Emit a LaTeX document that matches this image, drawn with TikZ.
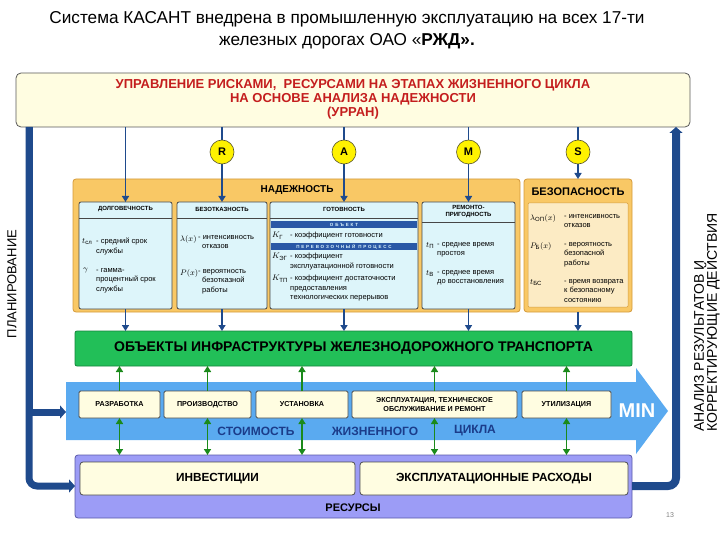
\documentclass[tikz,border=0pt]{standalone}
\usepackage{amsmath}
\usepackage{fontspec}
\setmainfont{Liberation Sans}
\usetikzlibrary{arrows.meta,positioning,calc}

\definecolor{lineblue}{HTML}{1F4A8C}
\definecolor{paleyel}{HTML}{FFFDE1}
\definecolor{titred}{HTML}{C41E1E}
\definecolor{orangebox}{HTML}{F9C865}
\definecolor{orangeedge}{HTML}{D49A3A}
\definecolor{safeinner}{HTML}{FCEBC4}
\definecolor{cyanbox}{HTML}{DDF5FA}
\definecolor{greenbox}{HTML}{22BF58}
\definecolor{greenedge}{HTML}{14843C}
\definecolor{bandblue}{HTML}{5AAAF0}
\definecolor{purplebox}{HTML}{9C9CF6}
\definecolor{purpleedge}{HTML}{5858A8}
\definecolor{arrgreen}{HTML}{1B8A1B}
\definecolor{navytext}{HTML}{1B3C8A}
\definecolor{stripblue}{HTML}{2A58A6}

\tikzset{
  blok/.style={draw, anchor=north west, inner sep=0pt, outer sep=0pt, rounded corners=3pt, line width=0.8pt},
  podblok/.style={blok, fill=cyanbox, draw=gray!55!black, minimum height=107pt, rounded corners=2pt},
  etapa/.style={blok, fill=paleyel, draw=gray!60!black, rounded corners=1.5pt, minimum height=27pt, align=center, font=\bfseries\fontsize{7.2}{8.5}\selectfont},
  hdr/.style={inner sep=0pt, align=center, font=\bfseries\fontsize{6}{7.5}\selectfont},
  sym/.style={anchor=north west, inner sep=0pt, font=\fontsize{8}{9.5}\selectfont},
  txt/.style={anchor=north west, inner sep=0pt, align=left, font=\fontsize{7.5}{9.5}\selectfont},
  polosa/.style={fill=stripblue, inner sep=0pt, minimum width=146pt, minimum height=7pt, text=cyan!15, font=\bfseries\fontsize{4.5}{5}\selectfont\addfontfeatures{LetterSpace=40}},
  circ/.style={circle, draw=olive!50!black, line width=0.6pt, fill=yellow, minimum size=24pt, inner sep=0pt, font=\bfseries\fontsize{11}{11}\selectfont},
  lnk/.style={draw=lineblue, line width=1.6pt, -{Triangle[length=6pt,width=7pt]}},
  gruesa/.style={draw=lineblue, line width=7pt, rounded corners=8pt, -{Triangle[length=6pt,width=13pt]}},
  flecha/.style={draw=arrgreen, line width=1.6pt, -{Triangle[length=6pt,width=7pt]}},
}

\begin{document}
\begin{tikzpicture}[x=1pt,y=-1pt]
\useasboundingbox (0,0) rectangle (720,540);

% titulo
\node[inner sep=0pt, align=center, font=\fontsize{17.2}{22}\selectfont] (titulo) at (347,30)
  {Система КАСАНТ внедрена в промышленную эксплуатацию на всех 17-ти\\железных дорогах ОАО «\textbf{РЖД».}};

% caja superior
\node[blok, fill=paleyel, draw=gray!70!black, minimum width=674pt, minimum height=54pt, rounded corners=5pt] (urran) at (16,73) {};
\node[inner sep=0pt, align=center, text=titred, font=\bfseries\fontsize{13}{14}\selectfont] (urrantxt) at (353,99)
  {УПРАВЛЕНИЕ РИСКАМИ,\ \ РЕСУРСАМИ НА ЭТАПАХ ЖИЗНЕННОГО ЦИКЛА\\НА ОСНОВЕ АНАЛИЗА НАДЕЖНОСТИ\\(УРРАН)};

% надежность
\node[blok, fill=orangebox, draw=orangeedge, minimum width=447pt, minimum height=133pt] (nadezh) at (73,179) {};
\node[inner sep=0pt, font=\bfseries\fontsize{10}{12}\selectfont] (nadezhtxt) at (297,190) {НАДЕЖНОСТЬ};

\node[podblok, minimum width=93pt] (dolg) at (79,202) {};
\node[podblok, minimum width=90pt] (bezotk) at (177,202) {};
\node[podblok, minimum width=148pt] (gotov) at (270,202) {};
\node[podblok, minimum width=93pt] (remont) at (422,202) {};

\draw[gray!55!black, line width=0.6pt] ([yshift=-16pt]dolg.north west) -- ([yshift=-16pt]dolg.north east);
\draw[gray!55!black, line width=0.6pt] ([yshift=-16pt]bezotk.north west) -- ([yshift=-16pt]bezotk.north east);
\draw[gray!55!black, line width=0.6pt] ([yshift=-16pt]gotov.north west) -- ([yshift=-16pt]gotov.north east);
\draw[gray!55!black, line width=0.6pt] ([yshift=-20pt]remont.north west) -- ([yshift=-20pt]remont.north east);

\node[hdr] (dolghdr) at ([yshift=-7.5pt]dolg.north) {ДОЛГОВЕЧНОСТЬ};
\node[hdr] (bezotkhdr) at ([yshift=-7.5pt]bezotk.north) {БЕЗОТКАЗНОСТЬ};
\node[hdr] (gotovhdr) at ([yshift=-7pt]gotov.north) {ГОТОВНОСТЬ};
\node[hdr] (remonthdr) at ([yshift=-9.5pt]remont.north) {РЕМОНТО-\\ПРИГОДНОСТЬ};

% долговечность
\node[sym] (dolgA) at (82,238) {$t_{\text{сл}}$};
\node[txt] (dolgAt) at (96,238) {- средний срок\\службы};
\node[sym] (dolgB) at (83,268) {$\gamma$};
\node[txt] (dolgBt) at (96,268) {- гамма-\\процентный срок\\службы};

% безотказность
\node[sym] (bezA) at (180,235) {$\lambda(x)$};
\node[txt] (bezAt) at (198,235) {- интенсивность\\\hspace*{4pt}отказов};
\node[sym] (bezB) at (180,269) {$P(x)$};
\node[txt] (bezBt) at (198,269) {- вероятность\\\hspace*{4pt}безотказной\\\hspace*{4pt}работы};

% готовность
\node[polosa] (obj) at (344,225) {ОБЪЕКТ};
\node[sym] (gotA) at (272,232) {$K_{\text{Г}}$};
\node[txt] (gotAt) at (290,232) {- коэффициент готовности};
\node[polosa] (perev) at (344,246.5) {ПЕРЕВОЗОЧНЫЙ ПРОЦЕСС};
\node[sym] (gotB) at (272,253) {$K_{\text{ЭГ}}$};
\node[txt] (gotBt) at (290,253) {- коэффициент\\эксплуатационной готовности};
\node[sym] (gotC) at (272,275) {$K_{\text{ТП}}$};
\node[txt] (gotCt) at (290,275) {- коэффициент достаточности\\предоставления\\технологических перерывов};

% ремонтопригодность
\node[sym] (remA) at (426,242) {$t_{\text{П}}$};
\node[txt] (remAt) at (437,242) {- среднее время\\простоя};
\node[sym] (remB) at (426,270) {$t_{\text{В}}$};
\node[txt] (remBt) at (437,270) {- среднее время\\до восстановления};

% безопасность
\node[blok, fill=orangebox, draw=orangeedge, minimum width=108pt, minimum height=133pt] (bezop) at (524,179) {};
\node[inner sep=0pt, font=\bfseries\fontsize{11}{13}\selectfont] (bezophdr) at (578,192) {БЕЗОПАСНОСТЬ};
\node[blok, fill=safeinner, draw=orangeedge, line width=0.5pt, minimum width=100pt, minimum height=104pt, rounded corners=1pt] (bezopin) at (528,203) {};
\node[sym] (bzA) at (530,214) {$\lambda_{\text{ОП}}(x)$};
\node[txt] (bzAt) at (564,214) {- интенсивность\\отказов};
\node[sym] (bzB) at (530,242) {$P_{\text{Б}}(x)$};
\node[txt] (bzBt) at (564,242) {- вероятность\\безопасной\\работы};
\node[sym] (bzC) at (530,279) {$t_{\text{БС}}$};
\node[txt] (bzCt) at (564,279) {- время возврата\\к безопасному\\состоянию};

% lineas desde la caja superior
\draw[lnk] (urran.south -| dolg.north) -- (dolg.north);
\draw[lnk] (urran.south -| bezotk.north) -- (bezotk.north);
\draw[lnk] (urran.south -| gotov.north) -- (gotov.north);
\draw[lnk] (urran.south -| remont.north) -- (remont.north);
\draw[lnk] (urran.south -| bezop.north) -- (bezop.north);

\node[circ] (kR) at ($(bezotk.north)+(0,-50)$) {R};
\node[circ] (kA) at ($(gotov.north)+(0,-50)$) {A};
\node[circ] (kM) at ($(remont.north)+(0,-50)$) {M};
\node[circ] (kS) at ($(bezop.north)+(0,-27)$) {S};

% объекты
\node[blok, fill=greenbox, draw=greenedge, minimum width=557pt, minimum height=35pt, rounded corners=2pt, font=\bfseries\fontsize{14}{16}\selectfont] (obekty) at (75,331)
  {ОБЪЕКТЫ ИНФРАСТРУКТУРЫ ЖЕЛЕЗНОДОРОЖНОГО ТРАНСПОРТА};

\draw[lnk] (dolg.south) -- (dolg.south |- obekty.north);
\draw[lnk] (bezotk.south) -- (bezotk.south |- obekty.north);
\draw[lnk] (gotov.south) -- (gotov.south |- obekty.north);
\draw[lnk] (remont.south) -- (remont.south |- obekty.north);
\draw[lnk] (bezop.south) -- (bezop.south |- obekty.north);

% banda azul
\fill[bandblue] (66,382) -- (636,382) -- (636,368) -- (668,411) -- (636,454) -- (636,440) -- (66,440) -- cycle;
\coordinate (bandw) at (66,412);
\node[inner sep=0pt, text=white, font=\bfseries\fontsize{20}{20}\selectfont] (min) at (637,411) {MIN};

\node[etapa, minimum width=81pt] (razrab) at (79,391) {РАЗРАБОТКА};
\node[etapa, minimum width=87pt] (proizv) at (164,391) {ПРОИЗВОДСТВО};
\node[etapa, minimum width=92pt] (ustan) at (256,391) {УСТАНОВКА};
\node[etapa, minimum width=165pt] (ekspl) at (352,391) {ЭКСПЛУАТАЦИЯ, ТЕХНИЧЕСКОЕ\\ОБСЛУЖИВАНИЕ И РЕМОНТ};
\node[etapa, minimum width=89pt] (utiliz) at (522,391) {УТИЛИЗАЦИЯ};

\node[inner sep=0pt, text=navytext, font=\bfseries\fontsize{12}{14}\selectfont] (stoim) at (256,431) {СТОИМОСТЬ};
\node[inner sep=0pt, text=navytext, font=\bfseries\fontsize{12}{14}\selectfont] (zhizn) at (375,431) {ЖИЗНЕННОГО};
\node[inner sep=0pt, text=navytext, font=\bfseries\fontsize{12}{14}\selectfont] (cikla) at (475,431) {ЦИКЛА};

% ресурсы
\node[blok, fill=purplebox, draw=purpleedge, minimum width=557pt, minimum height=63pt] (resursy) at (75,455) {};
\node[blok, fill=paleyel, draw=gray!60!black, minimum width=275pt, minimum height=33pt, font=\bfseries\fontsize{11.8}{13}\selectfont] (invest) at (80,462) {ИНВЕСТИЦИИ};
\node[blok, fill=paleyel, draw=gray!60!black, minimum width=268pt, minimum height=33pt, font=\bfseries\fontsize{11.8}{13}\selectfont] (rashody) at (360,462) {ЭКСПЛУАТАЦИОННЫЕ РАСХОДЫ};
\node[inner sep=0pt, font=\bfseries\fontsize{11}{13}\selectfont] (resurstxt) at (353,508) {РЕСУРСЫ};

% flechas verdes
\foreach \e in {razrab,proizv,ustan,ekspl,utiliz}{
  \draw[flecha] (\e.north) -- (\e.north |- obekty.south);
  \draw[flecha, {Triangle[length=6pt,width=7pt]}-{Triangle[length=6pt,width=7pt]}] (\e.south) -- (\e.south |- resursy.north);
}

% планирование / анализ
\coordinate (planbot) at (29,486);
\coordinate (analbot) at (676,486);
\draw[gruesa] (urran.south -| planbot) -- (planbot) -- (planbot -| resursy.west);
\draw[gruesa, rounded corners=0pt] (urran.south -| planbot) |- (bandw);
\draw[gruesa, line width=8pt] (analbot -| resursy.east) -- (analbot) -- (urran.south -| analbot);

\node[rotate=90, inner sep=0pt, font=\fontsize{13}{15}\selectfont] (plan) at (12,284) {ПЛАНИРОВАНИЕ};
\node[rotate=90, anchor=west, inner sep=0pt, font=\fontsize{14}{15}\selectfont] (anal1) at (699,432) {АНАЛИЗ РЕЗУЛЬТАТОВ И};
\node[rotate=90, anchor=west, inner sep=0pt, font=\fontsize{14}{15}\selectfont] (anal2) at (712,432) {КОРРЕКТИРУЮЩИЕ ДЕЙСТВИЯ};

\node[inner sep=0pt, text=gray, font=\fontsize{7}{8}\selectfont] (page) at (670,515) {13};
\end{tikzpicture}
\end{document}
